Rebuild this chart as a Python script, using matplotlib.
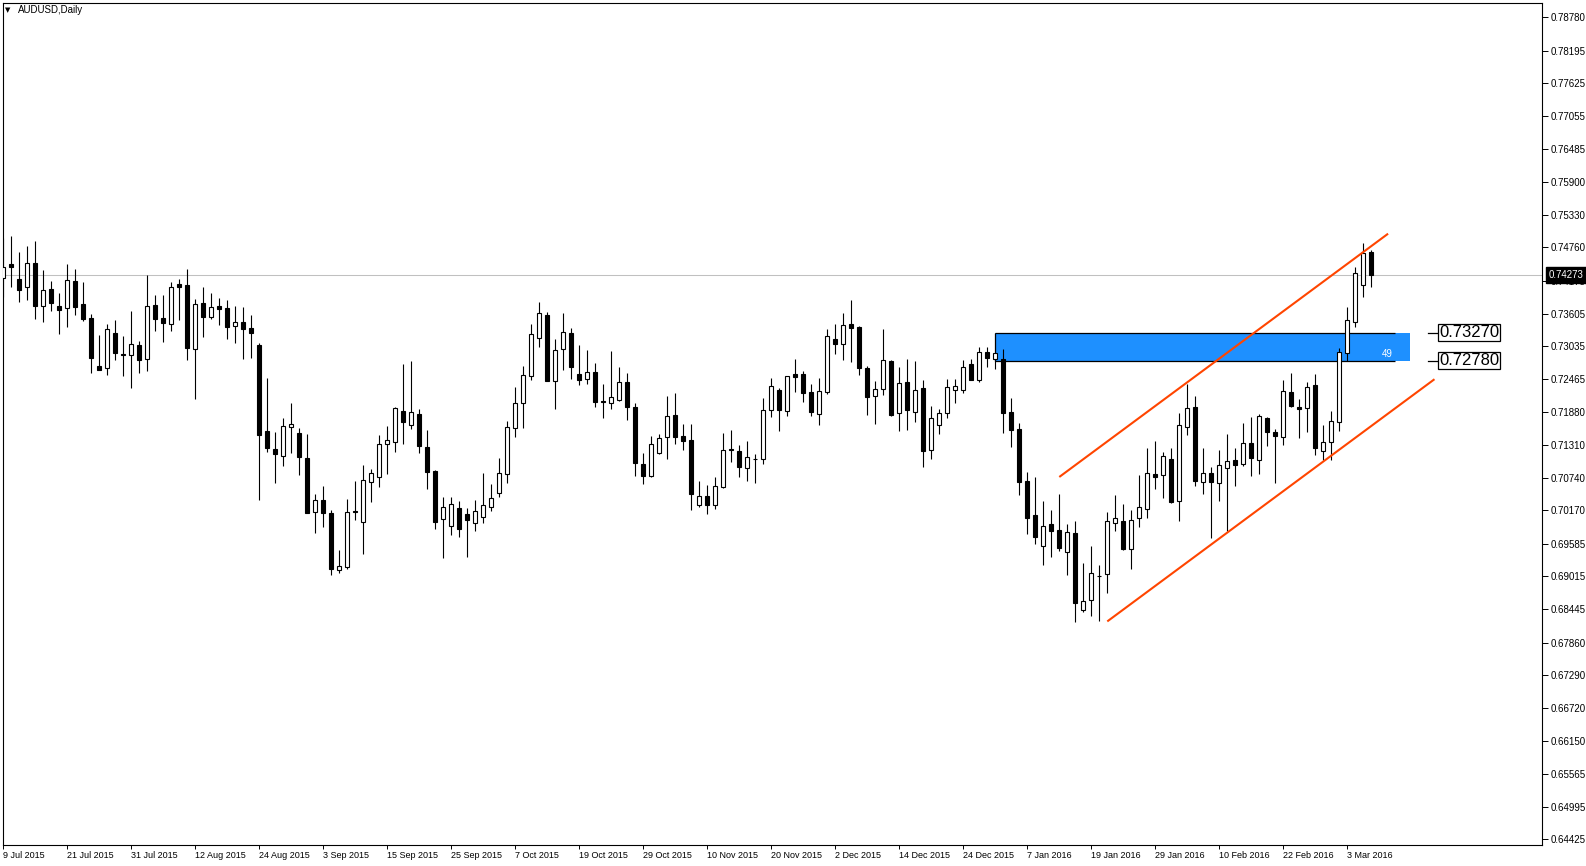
import matplotlib
matplotlib.use("Agg")
import matplotlib.pyplot as plt
import numpy as np
from matplotlib.patches import Rectangle
from matplotlib.transforms import blended_transform_factory

plt.rcParams['font.family'] = ['Liberation Sans', 'DejaVu Sans']

# ---------------- data ----------------
date_labels = ["9 Jul 2015", "21 Jul 2015", "31 Jul 2015", "12 Aug 2015", "24 Aug 2015",
               "3 Sep 2015", "15 Sep 2015", "25 Sep 2015", "7 Oct 2015", "19 Oct 2015",
               "29 Oct 2015", "10 Nov 2015", "20 Nov 2015", "2 Dec 2015", "14 Dec 2015",
               "24 Dec 2015", "7 Jan 2016", "19 Jan 2016", "29 Jan 2016", "10 Feb 2016",
               "22 Feb 2016", "3 Mar 2016"]
date_label_bars = [0, 8, 16, 24, 32, 40, 48, 56, 64, 72, 80, 88, 96, 104, 112, 120,
                   128, 136, 144, 152, 160, 168]

price_ticks = [0.78780, 0.78195, 0.77625, 0.77055, 0.76485, 0.75900, 0.75330, 0.74760,
               0.74175, 0.73605, 0.73035, 0.72465, 0.71880, 0.71310, 0.70740, 0.70170,
               0.69585, 0.69015, 0.68445, 0.67860, 0.67290, 0.66720, 0.66150, 0.65565,
               0.64995, 0.64425]

opens = [
    0.74221, 0.74471, 0.74209, 0.74075, 0.74483, 0.73744, 0.74029, 0.73738, 0.73697, 0.74174,
    0.73767, 0.73522, 0.72684, 0.72661, 0.73260, 0.72900, 0.72888, 0.73051, 0.72818, 0.73755,
    0.73522, 0.73418, 0.74116, 0.74099, 0.72993, 0.73784, 0.73551, 0.73738, 0.73697, 0.73388,
    0.73452, 0.73348, 0.73057, 0.71555, 0.71241, 0.71113, 0.71631, 0.71514, 0.71078, 0.70147,
    0.70345, 0.70118, 0.69122, 0.69175, 0.70153, 0.69960, 0.70659, 0.70758, 0.71334, 0.71357,
    0.71899, 0.71654, 0.71846, 0.71270, 0.70857, 0.70013, 0.69891, 0.70204, 0.70100, 0.69950,
    0.70050, 0.70233, 0.70466, 0.70798, 0.71601, 0.72038, 0.72509, 0.73172, 0.73580, 0.72422,
    0.72980, 0.73260, 0.72544, 0.72457, 0.72579, 0.72078, 0.72038, 0.72090, 0.72404, 0.71968,
    0.70973, 0.70763, 0.71165, 0.71444, 0.71828, 0.71467, 0.71397, 0.70257, 0.70420, 0.70268,
    0.70571, 0.71240, 0.71200, 0.70903, 0.71071, 0.71060, 0.71915, 0.72265, 0.71898, 0.72544,
    0.72544, 0.72230, 0.71846, 0.72230, 0.73155, 0.73068, 0.73423, 0.73370, 0.72655, 0.72160,
    0.72282, 0.72777, 0.71863, 0.72405, 0.71892, 0.72300, 0.71217, 0.71654, 0.71863, 0.72277,
    0.72277, 0.72725, 0.72451, 0.72928, 0.72806, 0.72806, 0.71881, 0.71590, 0.70682, 0.70088,
    0.69553, 0.69931, 0.69826, 0.69448, 0.69768, 0.68435, 0.68598, 0.69029, 0.69052, 0.69943,
    0.69978, 0.69489, 0.70030, 0.70199, 0.70799, 0.70781, 0.71061, 0.70327, 0.71619, 0.71968,
    0.70659, 0.70816, 0.70641, 0.70903, 0.71049, 0.70973, 0.71340, 0.71043, 0.71782, 0.71532,
    0.71445, 0.72230, 0.71974, 0.71951, 0.72353, 0.71200, 0.71369, 0.71707, 0.72917, 0.73453,
    0.74099, 0.74675]

highs = [
    0.74919, 0.74960, 0.74686, 0.74785, 0.74873, 0.74366, 0.74174, 0.73959, 0.74471, 0.74384,
    0.74157, 0.73592, 0.73231, 0.73423, 0.73493, 0.73214, 0.73650, 0.73127, 0.74279, 0.73930,
    0.73930, 0.74157, 0.74209, 0.74384, 0.73860, 0.74069, 0.73965, 0.73877, 0.73842, 0.73738,
    0.73726, 0.73580, 0.73097, 0.72486, 0.71532, 0.71782, 0.72044, 0.71602, 0.71503, 0.70455,
    0.70595, 0.70176, 0.69477, 0.70368, 0.70682, 0.70961, 0.70892, 0.71485, 0.71648, 0.71980,
    0.72725, 0.72777, 0.71939, 0.71573, 0.70870, 0.70403, 0.70403, 0.70332, 0.70204, 0.70350,
    0.70827, 0.70629, 0.71083, 0.71729, 0.72323, 0.72689, 0.73429, 0.73807, 0.73632, 0.73161,
    0.73615, 0.73353, 0.73056, 0.72969, 0.72742, 0.72375, 0.72951, 0.72672, 0.72567, 0.72043,
    0.71170, 0.71467, 0.71502, 0.72166, 0.72218, 0.71677, 0.71677, 0.70682, 0.70612, 0.70751,
    0.71520, 0.71572, 0.71310, 0.71380, 0.71159, 0.72131, 0.72480, 0.72305, 0.72515, 0.72812,
    0.72602, 0.72369, 0.72480, 0.73330, 0.73423, 0.73615, 0.73842, 0.73385, 0.72684, 0.72428,
    0.73335, 0.72795, 0.72666, 0.72806, 0.72777, 0.72440, 0.71991, 0.71939, 0.72463, 0.72457,
    0.72789, 0.72812, 0.73016, 0.73016, 0.72911, 0.72981, 0.72125, 0.71689, 0.70833, 0.70752,
    0.70327, 0.70176, 0.70455, 0.69931, 0.69984, 0.69250, 0.69547, 0.69209, 0.70141, 0.70437,
    0.70280, 0.70176, 0.70787, 0.71258, 0.71381, 0.71194, 0.71258, 0.71870, 0.72376, 0.72166,
    0.71258, 0.70932, 0.71223, 0.71503, 0.71258, 0.71695, 0.71800, 0.71852, 0.71800, 0.71590,
    0.72446, 0.72568, 0.72114, 0.72411, 0.72550, 0.71660, 0.71899, 0.73004, 0.73726, 0.74419,
    0.74838, 0.74715]

lows = [
    0.73901, 0.74075, 0.73813, 0.73842, 0.73511, 0.73464, 0.73650, 0.73255, 0.73377, 0.73581,
    0.73482, 0.72574, 0.72620, 0.72533, 0.72795, 0.72516, 0.72306, 0.72574, 0.72609, 0.73301,
    0.73115, 0.73301, 0.73493, 0.72795, 0.72120, 0.73196, 0.73511, 0.73406, 0.73162, 0.73097,
    0.72812, 0.72836, 0.70350, 0.71194, 0.70653, 0.70950, 0.71171, 0.70787, 0.70118, 0.69780,
    0.69885, 0.69041, 0.69082, 0.69152, 0.70001, 0.69413, 0.70321, 0.70583, 0.70810, 0.71194,
    0.71334, 0.71584, 0.71177, 0.70537, 0.69850, 0.69344, 0.69745, 0.69700, 0.69350, 0.69800,
    0.69950, 0.70150, 0.70396, 0.70641, 0.71456, 0.71613, 0.72445, 0.73027, 0.72420, 0.71944,
    0.72625, 0.72468, 0.72364, 0.72381, 0.71979, 0.71787, 0.71944, 0.72080, 0.71752, 0.70775,
    0.70635, 0.70746, 0.71147, 0.71071, 0.71322, 0.71223, 0.70175, 0.70233, 0.70105, 0.70193,
    0.70560, 0.71019, 0.70757, 0.70687, 0.70652, 0.70984, 0.71805, 0.71560, 0.71822, 0.72241,
    0.72067, 0.71822, 0.71665, 0.72195, 0.72905, 0.72794, 0.72765, 0.72538, 0.71840, 0.71683,
    0.72189, 0.71822, 0.71560, 0.71572, 0.71718, 0.70932, 0.71072, 0.71508, 0.71788, 0.72050,
    0.72224, 0.72440, 0.72416, 0.72678, 0.72632, 0.71526, 0.71281, 0.70437, 0.69762, 0.69582,
    0.69221, 0.69355, 0.69466, 0.69041, 0.68220, 0.68400, 0.68325, 0.68237, 0.68721, 0.69809,
    0.69477, 0.69140, 0.69885, 0.70042, 0.70548, 0.70391, 0.70304, 0.69990, 0.71485, 0.70601,
    0.70461, 0.69693, 0.70339, 0.69809, 0.70601, 0.70950, 0.70775, 0.70810, 0.71299, 0.70653,
    0.71317, 0.71968, 0.71427, 0.71532, 0.71136, 0.71049, 0.71055, 0.71561, 0.72783, 0.73377,
    0.73901, 0.74075]

closes = [
    0.74424, 0.74424, 0.74017, 0.74483, 0.73744, 0.74011, 0.73796, 0.73674, 0.74186, 0.73726,
    0.73517, 0.72836, 0.72626, 0.73330, 0.72923, 0.72888, 0.73074, 0.72795, 0.73738, 0.73517,
    0.73447, 0.74064, 0.74069, 0.73010, 0.73767, 0.73551, 0.73714, 0.73691, 0.73377, 0.73452,
    0.73342, 0.73272, 0.71485, 0.71264, 0.71159, 0.71642, 0.71677, 0.71107, 0.70129, 0.70345,
    0.70129, 0.69140, 0.69192, 0.70135, 0.70135, 0.70694, 0.70816, 0.71322, 0.71392, 0.71951,
    0.71718, 0.71881, 0.71299, 0.70845, 0.69972, 0.70222, 0.70275, 0.69850, 0.70000, 0.70150,
    0.70257, 0.70379, 0.70815, 0.71619, 0.72038, 0.72526, 0.73242, 0.73609, 0.72433, 0.72963,
    0.73277, 0.72678, 0.72439, 0.72579, 0.72055, 0.72067, 0.72142, 0.72404, 0.71979, 0.70990,
    0.70763, 0.71322, 0.71426, 0.71811, 0.71444, 0.71386, 0.70460, 0.70414, 0.70268, 0.70588,
    0.71217, 0.71229, 0.70932, 0.71095, 0.71060, 0.71915, 0.72334, 0.71915, 0.72509, 0.72503,
    0.72224, 0.71892, 0.72247, 0.73207, 0.73068, 0.73399, 0.73359, 0.72649, 0.72142, 0.72282,
    0.72788, 0.71840, 0.72387, 0.71916, 0.72265, 0.71212, 0.71776, 0.71863, 0.72317, 0.72335,
    0.72667, 0.72451, 0.72928, 0.72835, 0.72911, 0.71875, 0.71578, 0.70670, 0.70042, 0.69710,
    0.69890, 0.69815, 0.69518, 0.69791, 0.68558, 0.68581, 0.69070, 0.69017, 0.69978, 0.70030,
    0.69500, 0.69995, 0.70222, 0.70816, 0.70758, 0.71113, 0.70321, 0.71654, 0.71951, 0.70688,
    0.70816, 0.70659, 0.70956, 0.71026, 0.70967, 0.71340, 0.71078, 0.71811, 0.71532, 0.71462,
    0.72248, 0.71998, 0.71934, 0.72318, 0.71264, 0.71369, 0.71724, 0.72929, 0.73487, 0.74308,
    0.74657, 0.74273]

current_price = 0.74273
zone_top = 0.73270
zone_bottom = 0.72780
zone_start_bar = 124
zone_end_bar = 175.9
zone_count_text = "49"
upper_channel = ([132.0, 173.1], [0.70752, 0.75000])
lower_channel = ([138.0, 178.9], [0.68230, 0.72459])

# ---------------- figure ----------------
W, H = 1586, 866
fig = plt.figure(figsize=(W / 100, H / 100), dpi=100)
fig.patch.set_facecolor('white')
ax = fig.add_axes([2.5 / W, 21 / H, 1539.5 / W, 842 / H])
ax.set_facecolor('white')
ax.set_xlim(-0.1, 192.34)
ax.set_ylim(0.64326, 0.79028)

o = np.array(opens)
h = np.array(highs)
l = np.array(lows)
c = np.array(closes)
x = np.arange(len(o))

# current price line
ax.axhline(current_price, color='#C0C0C0', lw=0.75, zorder=0.5)

# supply/demand zone
ax.add_patch(Rectangle((zone_start_bar, zone_bottom), zone_end_bar - zone_start_bar,
                       zone_top - zone_bottom, facecolor='#1E90FF', edgecolor='none', zorder=1))
ax.hlines([zone_top, zone_bottom], zone_start_bar, 174.0, color='black', lw=0.9, zorder=1.5)
ax.vlines(zone_start_bar, zone_bottom, zone_top, color='black', lw=0.9, zorder=1.5)
ax.text(172.96, 0.72899, zone_count_text, color='white', fontsize=7, ha='center',
        va='center', zorder=1.6)

# candles
ax.vlines(x, l, h, color='black', lw=0.8, zorder=2)
up = c >= o
ax.bar(x[up], (c - o)[up], bottom=o[up], width=0.5, facecolor='white',
       edgecolor='black', linewidth=0.8, zorder=3)
ax.bar(x[~up], (o - c)[~up], bottom=c[~up], width=0.5, facecolor='black',
       edgecolor='black', linewidth=0.8, zorder=3)

# channel lines
ax.plot(*upper_channel, color='#FF4500', lw=1.5, zorder=4, solid_capstyle='butt')
ax.plot(*lower_channel, color='#FF4500', lw=1.5, zorder=4, solid_capstyle='butt')

# zone level labels
for lvl in (zone_top, zone_bottom):
    ax.plot([178.1, 179.3], [lvl, lvl], color='black', lw=0.9, clip_on=False, zorder=5)
    ax.text(179.45, lvl, f"{lvl:.5f}", fontsize=12, ha='left', va='center', color='black',
            clip_on=False, zorder=6,
            bbox=dict(boxstyle='square,pad=0.06', fc='white', ec='black', lw=0.9))

# axes styling
for s in ax.spines.values():
    s.set_color('black')
    s.set_linewidth(0.8)

ax.yaxis.tick_right()
ax.set_yticks(price_ticks)
ax.set_yticklabels([f"{v:.5f}" for v in price_ticks])
ax.tick_params(axis='y', direction='out', length=4, width=0.7, pad=2, labelsize=7,
               colors='black')

ax.set_xticks(date_label_bars)
ax.set_xticklabels(date_labels, ha='left')
ax.tick_params(axis='x', direction='out', length=3, width=0.7, pad=1.5, labelsize=6.5,
               colors='black')

# current price box on the scale
trans = blended_transform_factory(ax.transAxes, ax.transData)
ax.text(1.0042, current_price, f"{current_price:.5f}", transform=trans, fontsize=7,
        color='white', ha='left', va='center', clip_on=False, zorder=10,
        bbox=dict(boxstyle='square,pad=0.3', fc='black', ec='black'))

# title
fig.text(8 / W, 1 - 10 / H, "\u25BC", fontsize=5, ha='center', va='center',
         family=['DejaVu Sans'])
fig.text(18 / W, 1 - 10 / H, "AUDUSD,Daily", fontsize=7, ha='left', va='center',
         color='black')

fig.savefig("out.png", dpi=100, facecolor='white')
